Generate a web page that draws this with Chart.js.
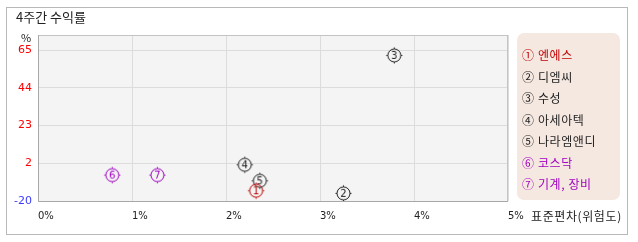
<!DOCTYPE html>
<html><head><meta charset="utf-8">
<script src="https://cdn.jsdelivr.net/npm/chart.js@4"></script>
<style>
body{margin:0;width:638px;height:242px;background:#fff;position:relative;overflow:hidden;font-family:"Noto Sans CJK KR","Noto Sans",sans-serif;color:#222}
#frame{position:absolute;left:6px;top:7px;width:622px;height:228px;border:1px solid #b9b9b9;box-sizing:border-box}
#wrap{position:absolute;left:0;top:0;width:638px;height:242px}
#title{position:absolute;left:16px;top:8px;font-size:13px;line-height:17px;color:#222}
#unit{position:absolute;left:21px;top:30px;font-size:11px;line-height:14px;color:#222}
#xtitle{position:absolute;left:531px;top:208px;font-size:12px;line-height:16px;letter-spacing:0.6px;color:#222}
#legend{position:absolute;left:517px;top:33px;width:103px;height:167px;background:#f5e8e1;border-radius:7px}
#legend div{position:absolute;left:5px;font-size:12px;line-height:16px;letter-spacing:0.6px;white-space:nowrap}
</style></head>
<body>
<div id="frame"></div>
<div id="wrap"><canvas id="c" width="638" height="242"></canvas></div>
<div id="title">4주간 수익률</div>
<div id="unit">%</div>
<div id="xtitle">표준편차(위험도)</div>
<div id="legend"></div>
<script>
// ---- data ----
const names = ['엔에스', '디엠씨', '수성', '아세아텍', '나라엠앤디', '코스닥', '기계, 장비'];
const marks = ['①', '②', '③', '④', '⑤', '⑥', '⑦'];
const digits = ['1', '2', '3', '4', '5', '6', '7'];
const stdDev = [2.32, 3.25, 3.79, 2.20, 2.36, 0.79, 1.27];   // x, %
const returns = [-14.2, -15.7, 62.0, 0.4, -8.6, -5.4, -5.4]; // y, %
const colors = ['#c00000', '#222222', '#222222', '#222222', '#222222', '#a000c0', '#a000c0'];
const yTickValues = [-20, 1.25, 22.5, 43.75, 65];
const yTickLabels = ['-20', '2', '23', '44', '65'];
const xTickLabels = ['0%', '1%', '2%', '3%', '4%', '5%'];

// legend (HTML text)
const lg = document.getElementById('legend');
names.forEach((n, i) => {
  const d = document.createElement('div');
  d.textContent = marks[i] + ' ' + n;
  d.style.color = colors[i];
  d.style.top = (14 + i * 21.5) + 'px';
  lg.appendChild(d);
});

function marker(num, color) {
  const c = document.createElement('canvas');
  c.width = 19; c.height = 19;
  const g = c.getContext('2d');
  g.strokeStyle = color; g.lineWidth = 1;
  g.beginPath(); g.arc(9.5, 9.5, 6.5, 0, Math.PI * 2); g.stroke();
  g.beginPath();
  g.moveTo(9.5, 1.5); g.lineTo(9.5, 3);
  g.moveTo(9.5, 16); g.lineTo(9.5, 17.5);
  g.moveTo(1.5, 9.5); g.lineTo(3, 9.5);
  g.moveTo(16, 9.5); g.lineTo(17.5, 9.5);
  g.stroke();
  g.fillStyle = color; g.font = '10px "DejaVu Sans"';
  g.textAlign = 'center'; g.textBaseline = 'middle';
  g.fillText(num, 9.5, 10);
  return c;
}

const datasets = names.map((n, i) => ({
  label: n,
  data: [{x: stdDev[i], y: returns[i]}],
  pointStyle: marker(digits[i], colors[i]),
  pointRadius: 8,
  borderColor: colors[i],
  backgroundColor: colors[i]
}));

const bgPlugin = {
  id: 'bg',
  beforeDraw(chart) {
    const a = chart.chartArea, ctx = chart.ctx;
    ctx.save(); ctx.fillStyle = '#f4f4f4';
    ctx.fillRect(a.left, a.top, a.right - a.left, a.bottom - a.top);
    ctx.restore();
  },
  beforeDatasetsDraw(chart) {
    const a = chart.chartArea, ctx = chart.ctx;
    ctx.save();
    ctx.strokeStyle = '#c4c4c4'; ctx.lineWidth = 1;
    ctx.strokeRect(a.left + 0.5, a.top + 0.5, a.right - a.left - 1, a.bottom - a.top);
    ctx.strokeStyle = '#a8a8a8';
    ctx.beginPath();
    ctx.moveTo(a.left + 0.5, a.top); ctx.lineTo(a.left + 0.5, a.bottom + 0.5);
    ctx.lineTo(a.right, a.bottom + 0.5);
    ctx.stroke();
    ctx.restore();
  }
};

new Chart(document.getElementById('c'), {
  type: 'scatter',
  data: {datasets},
  plugins: [bgPlugin],
  options: {
    responsive: false,
    animation: false,
    events: [],
    layout: {padding: {left: 0, top: 35, right: 130, bottom: 11}},
    plugins: {legend: {display: false}, tooltip: {enabled: false}},
    scales: {
      x: {
        type: 'linear', min: 0, max: 5,
        afterFit(s) { s.height = 30; },
        afterBuildTicks(s) { s.ticks = xTickLabels.map((l, i) => ({value: i})); },
        ticks: {
          align: 'start', padding: 9, color: '#222',
          font: {family: '"DejaVu Sans"', size: 10},
          callback: (v, i) => xTickLabels[i]
        },
        grid: {color: '#dcdcdc', drawTicks: false},
        border: {display: false}
      },
      y: {
        type: 'linear', min: -20, max: 73.5,
        afterFit(s) { s.width = 38; },
        afterBuildTicks(s) { s.ticks = yTickValues.map(v => ({value: v})); },
        ticks: {
          padding: 6,
          font: {family: '"DejaVu Sans"', size: 11},
          color: (ctx) => ctx.index === 0 ? '#3c3cff' : '#ff0000',
          callback: (v, i) => yTickLabels[i]
        },
        grid: {color: '#dcdcdc', drawTicks: false},
        border: {display: false}
      }
    }
  }
});
</script>
</body></html>
